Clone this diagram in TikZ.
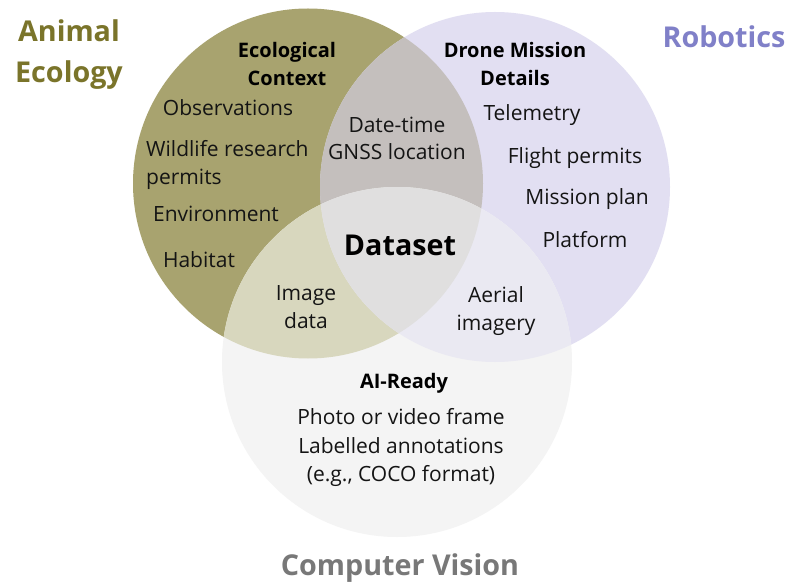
\documentclass[tikz,border=0pt]{standalone}
\usepackage{fontspec}
\setmainfont{Open Sans}
\definecolor{olivefill}{RGB}{168,163,111}
\definecolor{purplefill}{RGB}{226,223,242}
\definecolor{grayfill}{RGB}{244,244,244}
\definecolor{ovpfill}{RGB}{196,191,189}
\definecolor{ovgfill}{RGB}{216,215,190}
\definecolor{pvgfill}{RGB}{234,233,242}
\definecolor{centerfill}{RGB}{224,223,223}
\definecolor{olivetext}{RGB}{122,116,42}
\definecolor{robotext}{RGB}{128,128,200}
\definecolor{cvtext}{RGB}{120,120,120}
\definecolor{bodytext}{RGB}{20,20,20}
\tikzset{
  item/.style={font=\fontsize{21}{23}\selectfont, text=bodytext, inner sep=0pt, align=center},
  itemleft/.style={font=\fontsize{21}{28}\selectfont, text=bodytext, inner sep=0pt, align=left},
  head/.style={font=\fontsize{20}{28}\selectfont\bfseries, text=black, inner sep=0pt, align=center},
  title/.style={font=\fontsize{28.7}{41}\selectfont\bfseries, inner sep=0pt, align=center},
}
\begin{document}
\begin{tikzpicture}[x=1pt,y=-1pt]
\useasboundingbox (0,0) rectangle (787,585);
\fill[white] (0,0) rectangle (787,585);
\def\rr{175}
\coordinate (ca) at (308,183.5);
\coordinate (cb) at (495,187);
\coordinate (cc) at (397,362);
% base circles
\fill[olivefill] (ca) circle[radius=\rr];
\fill[purplefill] (cb) circle[radius=\rr];
\fill[grayfill] (cc) circle[radius=\rr];
\begin{scope}
  \clip (ca) circle[radius=\rr];
  \fill[ovpfill] (cb) circle[radius=\rr];
  \fill[ovgfill] (cc) circle[radius=\rr];
\end{scope}
\begin{scope}
  \clip (cb) circle[radius=\rr];
  \fill[pvgfill] (cc) circle[radius=\rr];
\end{scope}
\begin{scope}
  \clip (ca) circle[radius=\rr];
  \clip (cb) circle[radius=\rr];
  \fill[centerfill] (cc) circle[radius=\rr];
\end{scope}
% titles
\node[title, text=olivetext] (animal) at (69,55) {Animal\\Ecology};
\node[title, text=robotext] (robotics) at (724,37) {Robotics};
\node[title, text=cvtext] (cv) at (400,568) {Computer Vision};
% heads
\node[head] (eco) at (287,64) {Ecological\\Context};
\node[head] (drone) at (515,64) {Drone Mission\\Details};
\node[head] (ai) at (404,383) {AI-Ready};
\node[title, text=black] (dataset) at (400,245) {Dataset};
% ecology items
\node[item] (obs) at (228,108) {Observations};
\node[itemleft, anchor=west] (wild) at (146,165) {Wildlife research\\permits};
\node[item] (env) at (216,214) {Environment};
\node[item] (hab) at (199,260) {Habitat};
% overlap items
\node[item, font=\fontsize{21}{27}\selectfont] (gnss) at (397,138.5) {Date-time\\GNSS location};
\node[item, font=\fontsize{21}{28}\selectfont] (img) at (306,307) {Image\\data};
\node[item, font=\fontsize{21}{28}\selectfont] (aer) at (496,311) {Aerial\\imagery};
% robotics items
\node[item] (tel) at (532,115) {Telemetry};
\node[item] (flight) at (575,158) {Flight permits};
\node[item] (mission) at (587,199) {Mission plan};
\node[item] (plat) at (585,240) {Platform};
% cv items
\node[item, font=\fontsize{21}{28.5}\selectfont] (cvitems) at (401,447.5) {Photo or video frame\\Labelled annotations\\(e.g., COCO format)};
\end{tikzpicture}
\end{document}
